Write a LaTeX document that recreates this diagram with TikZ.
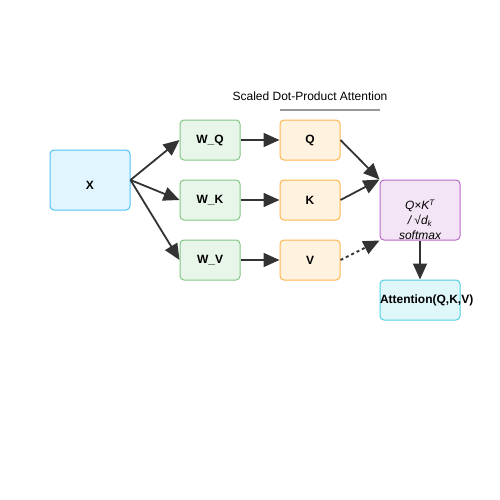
\documentclass[tikz,border=0pt]{standalone}
\usepackage{fontspec}
\setmainfont{Liberation Sans}
\usetikzlibrary{arrows.meta}
\definecolor{xfill}{HTML}{E1F5FE}\definecolor{xline}{HTML}{4FC3F7}
\definecolor{wfill}{HTML}{E8F5E9}\definecolor{wline}{HTML}{81C784}
\definecolor{qfill}{HTML}{FFF3E0}\definecolor{qline}{HTML}{FFB74D}
\definecolor{afill}{HTML}{F3E5F5}\definecolor{aline}{HTML}{BA68C8}
\definecolor{ofill}{HTML}{E0F7FA}\definecolor{oline}{HTML}{4DD0E1}
\definecolor{arr}{HTML}{333333}
\tikzset{
  box/.style={draw, rounded corners=4pt, line width=1pt, inner sep=0pt,
    font=\fontsize{12}{14}\selectfont\bfseries},
  conn/.style={draw=arr, line width=1.8pt, -{Triangle[length=16pt,width=14pt]}}
}
\begin{document}
\begin{tikzpicture}[x=1pt,y=-1pt]
\useasboundingbox (0,0) rectangle (500,500);
\node[box, fill=xfill, draw=xline, minimum width=80pt, minimum height=60pt,
  label={[font=\fontsize{12}{14}\selectfont\bfseries, yshift=-5pt]center:X}] (x) at (90,180) {};
\node[box, fill=wfill, draw=wline, minimum width=60pt, minimum height=40pt] (wq) at (210,140) {W\_Q};
\node[box, fill=wfill, draw=wline, minimum width=60pt, minimum height=40pt] (wk) at (210,200) {W\_K};
\node[box, fill=wfill, draw=wline, minimum width=60pt, minimum height=40pt] (wv) at (210,260) {W\_V};
\node[box, fill=qfill, draw=qline, minimum width=60pt, minimum height=40pt] (q) at (310,140) {Q};
\node[box, fill=qfill, draw=qline, minimum width=60pt, minimum height=40pt] (k) at (310,200) {K};
\node[box, fill=qfill, draw=qline, minimum width=60pt, minimum height=40pt] (v) at (310,260) {V};
\node[box, fill=afill, draw=aline, minimum width=80pt, minimum height=60pt,
  label={[font=\fontsize{12}{15}\selectfont\itshape, align=center, yshift=-10pt]center:Q×K\textsuperscript{T}\\/ √d\textsubscript{k}\\softmax}]
  (att) at (420,210) {};
\node[box, fill=ofill, draw=oline, text width=80pt, align=center, minimum height=40pt] (out) at (420,300) {Attention(Q,K,V)};
\node[font=\fontsize{12}{14}\selectfont] (title) at (310,96) {Scaled Dot-Product Attention};
\coordinate (tl) at (280,110); \coordinate (tr) at (380,110);
\draw[color=black!40, line width=1.5pt] (tl) -- (tr);
\draw[conn] (x.east) -- (wq.west);
\draw[conn] (x.east) -- (wk.west);
\draw[conn] (x.east) -- (wv.west);
\draw[conn] (wq) -- (q); \draw[conn] (wk) -- (k); \draw[conn] (wv) -- (v);
\draw[conn] (q.east) -- (att.north west);
\draw[conn] (k.east) -- (att.north west);
\draw[conn, dashed] (v.east) -- (att.south west);
\draw[conn] (att) -- (out);
\end{tikzpicture}
\end{document}
